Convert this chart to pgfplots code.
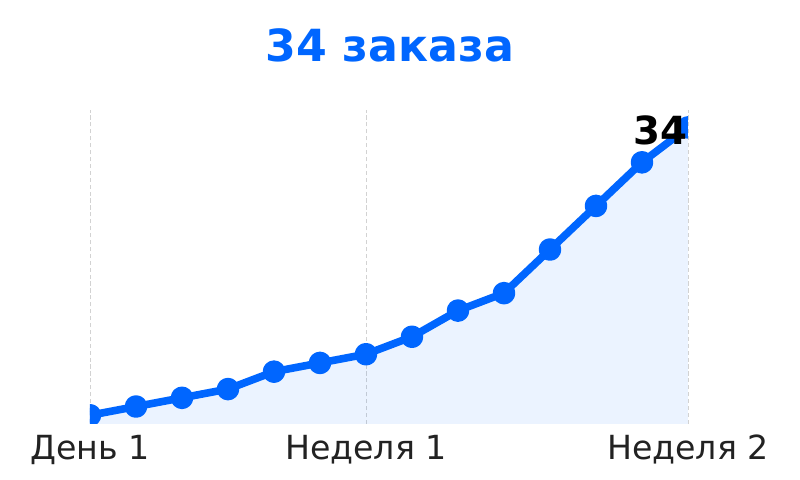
\documentclass[border=0pt]{standalone}
\usepackage{fontspec}
\setmainfont{DejaVu Sans}
\usepackage{pgfplots}
\pgfplotsset{compat=1.18}

\definecolor{lineblue}{HTML}{0066FF}
\definecolor{ticktext}{HTML}{222222}
\definecolor{gridgray}{HTML}{D2D2D2}

\begin{document}
\begin{tikzpicture}
  \path[use as bounding box] (-65.04pt,-40.47pt) rectangle (513.12pt,306.42pt);
  \begin{axis}[
    at={(0,0)}, anchor=south west,
    scale only axis,
    width=432.17pt,
    height=226.93pt,
    xmin=0, xmax=13,
    ymin=0, ymax=36,
    clip marker paths=true,
    axis line style={draw=none},
    tick style={draw=none},
    ytick=\empty,
    xtick={0,6,13},
    xticklabels={День 1,Неделя 1,Неделя 2},
    xticklabel style={font=\fontsize{24}{27}\selectfont, text=ticktext, anchor=base, yshift=-26pt},
    xmajorgrids,
    major grid style={draw=gridgray, line width=0.7pt, dash pattern=on 3pt off 2pt},
  ]
    \addplot[draw=none, fill=lineblue, fill opacity=0.08] coordinates {
      (0,1) (1,2) (2,3) (3,4) (4,6) (5,7) (6,8)
      (7,10) (8,13) (9,15) (10,20) (11,25) (12,30) (13,34)
    } \closedcycle;
    \addplot[lineblue, line width=5.5pt, line join=round, mark=*, mark size=5.4pt,
      mark options={fill=lineblue, draw=none}] coordinates {
      (0,1) (1,2) (2,3) (3,4) (4,6) (5,7) (6,8)
      (7,10) (8,13) (9,15) (10,20) (11,25) (12,30) (13,34)
    };
    \coordinate (lastlab) at (axis cs:13,32);
  \end{axis}
  \node[anchor=base east, inner sep=0pt, font=\fontsize{28}{30}\selectfont\bfseries] at (lastlab) {34};
  \node[anchor=base, inner sep=0pt, text=lineblue, font=\fontsize{32}{35}\selectfont\bfseries] at (216.8pt,261.62pt) {34 заказа};
\end{tikzpicture}
\end{document}
